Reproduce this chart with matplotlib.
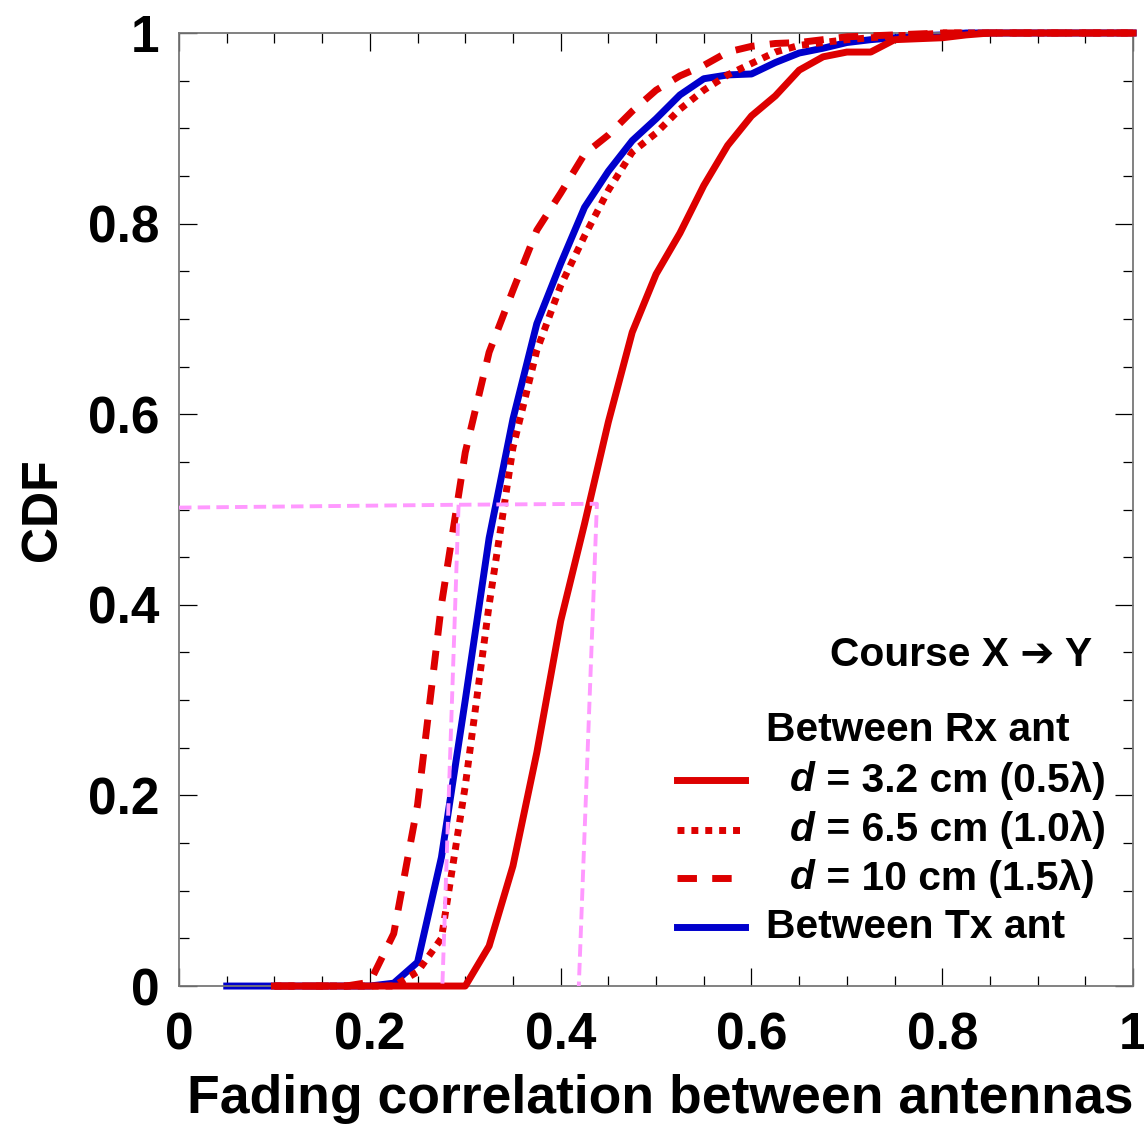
import matplotlib
matplotlib.use("Agg")
import matplotlib.pyplot as plt
from matplotlib.ticker import MultipleLocator, FuncFormatter

# correlation grid (x) and CDF values
corr = [0.05, 0.075, 0.1, 0.125, 0.15, 0.175, 0.2, 0.225, 0.25, 0.275,
        0.3, 0.325, 0.35, 0.375, 0.4, 0.425, 0.45, 0.475, 0.5, 0.525,
        0.55, 0.575, 0.6, 0.625, 0.65, 0.675, 0.7, 0.725, 0.75, 0.775,
        0.8, 0.825, 0.85, 0.875, 0.9, 0.925, 0.95, 0.975, 1.0]
corr_rx = corr[2:]  # Rx curves start at 0.1

cdf_tx = [0, 0, 0, 0, 0, 0, 0, 0.003, 0.025, 0.135,
          0.30, 0.47, 0.595, 0.695, 0.758, 0.817, 0.855, 0.887, 0.91, 0.935,
          0.952, 0.956, 0.957, 0.969, 0.979, 0.984, 0.99, 0.993, 0.995, 0.997,
          0.998, 1, 1, 1, 1, 1, 1, 1, 1]
cdf_rx_05 = [0, 0, 0, 0, 0, 0, 0, 0, 0,
             0.042, 0.126, 0.245, 0.383, 0.485, 0.592, 0.686, 0.747, 0.79, 0.84,
             0.882, 0.913, 0.934, 0.961, 0.975, 0.98, 0.98, 0.993, 0.994, 0.995,
             0.998, 1, 1, 1, 1, 1, 1, 1]
cdf_rx_10 = [0, 0, 0, 0, 0, 0, 0.015, 0.05, 0.21,
             0.40, 0.565, 0.667, 0.735, 0.787, 0.835, 0.875, 0.895, 0.92, 0.94,
             0.956, 0.968, 0.98, 0.987, 0.99, 0.993, 0.995, 0.997, 0.998, 1,
             1, 1, 1, 1, 1, 1, 1, 1]
cdf_rx_15 = [0, 0, 0, 0, 0.004, 0.055, 0.19, 0.40, 0.56,
             0.665, 0.73, 0.793, 0.832, 0.873, 0.893, 0.918, 0.94, 0.955, 0.966,
             0.98, 0.986, 0.989, 0.99, 0.993, 0.996, 0.997, 0.998, 0.999, 1,
             1, 1, 1, 1, 1, 1, 1, 1]

# median guide lines (hand drawn in the original, slightly slanted)
guide_x = [0, 0.293, 0.438, 0.419]
guide_y = [0.502, 0.505, 0.506, 0.0]
guide2_x = [0.293, 0.276]
guide2_y = [0.505, 0.0]

RED = '#DD0000'
BLUE = '#0000CC'
PINK = '#FF99FF'
FONT = 'Liberation Sans'

plt.rcParams['font.family'] = [FONT, 'DejaVu Sans']
plt.rcParams['font.weight'] = 'bold'

fig = plt.figure(figsize=(11.44, 11.26), dpi=100)
ax = fig.add_axes([0.1565, 0.1243, 0.834, 0.8464])

lw = 5.0
ax.plot(corr, cdf_tx, color=BLUE, lw=lw, clip_on=False, zorder=2)
ax.plot(corr_rx, cdf_rx_05, color=RED, lw=lw, clip_on=False, zorder=3)
ax.plot(corr_rx, cdf_rx_10, color=RED, lw=lw, linestyle=(0, (1, 1)),
        dash_capstyle='butt', clip_on=False, zorder=3)
ax.plot(corr_rx, cdf_rx_15, color=RED, lw=lw, linestyle=(0, (2.8, 2.2)),
        dash_capstyle='butt', clip_on=False, zorder=3)
ax.plot(guide_x, guide_y, color=PINK, lw=2.8, linestyle=(0, (3.2, 1.6)), zorder=4)
ax.plot(guide2_x, guide2_y, color=PINK, lw=2.8, linestyle=(0, (3.2, 1.6)), zorder=4)

ax.set_xlim(0, 1)
ax.set_ylim(0, 1)

fmt = FuncFormatter(lambda v, p: f"{v:g}")
for axis in (ax.xaxis, ax.yaxis):
    axis.set_major_locator(MultipleLocator(0.2))
    axis.set_minor_locator(MultipleLocator(0.05))
    axis.set_major_formatter(fmt)

ax.tick_params(which='both', direction='in', top=True, right=True,
               color='black', width=0.9)
ax.tick_params(which='major', length=13)
ax.tick_params(which='minor', length=7)
ax.tick_params(axis='x', which='major', labelsize=37, pad=18)
ax.tick_params(axis='y', which='major', labelsize=37, pad=14)

for s in ax.spines.values():
    s.set_color('#777777')
    s.set_linewidth(1.3)

ax.set_xlabel('Fading correlation between antennas', fontsize=38.5,
              fontweight='bold', labelpad=18)
ax.xaxis.set_label_coords(0.504, -0.092)
ax.set_ylabel('CDF', fontsize=36, fontweight='bold', labelpad=16)

# legend block, laid out like the original
fs = 29.3
ax.text(0.957, 0.347, 'Course X \u2794 Y', transform=ax.transAxes, fontsize=fs,
        fontweight='bold', ha='right', va='center',
        family=[FONT, 'DejaVu Sans'])
ax.text(0.615, 0.269, 'Between Rx ant', transform=ax.transAxes, fontsize=fs,
        fontweight='bold', ha='left', va='center')

rows = [
    (0.216, RED, '-', '3.2 cm (0.5\u03bb)'),
    (0.164, RED, (0, (1, 1)), '6.5 cm (1.0\u03bb)'),
    (0.113, RED, (0, (2.8, 2.2)), '10 cm (1.5\u03bb)'),
]
for yy, col, ls, lab in rows:
    ax.plot([0.522, 0.593], [yy, yy], transform=ax.transAxes, color=col,
            lw=lw, linestyle=ls, dash_capstyle='butt', clip_on=False)
    t = ax.text(0.640, yy, 'd', transform=ax.transAxes, fontsize=fs,
                fontweight='bold', style='italic', ha='left', va='center')
    ax.annotate(' = ' + lab, xy=(1, 0.5), xycoords=t, fontsize=fs,
                fontweight='bold', ha='left', va='center')

ax.plot([0.522, 0.593], [0.062, 0.062], transform=ax.transAxes, color=BLUE,
        lw=lw, clip_on=False)
ax.text(0.615, 0.062, 'Between Tx ant', transform=ax.transAxes, fontsize=fs,
        fontweight='bold', ha='left', va='center')

fig.savefig('out.png', dpi=100, facecolor='white')
